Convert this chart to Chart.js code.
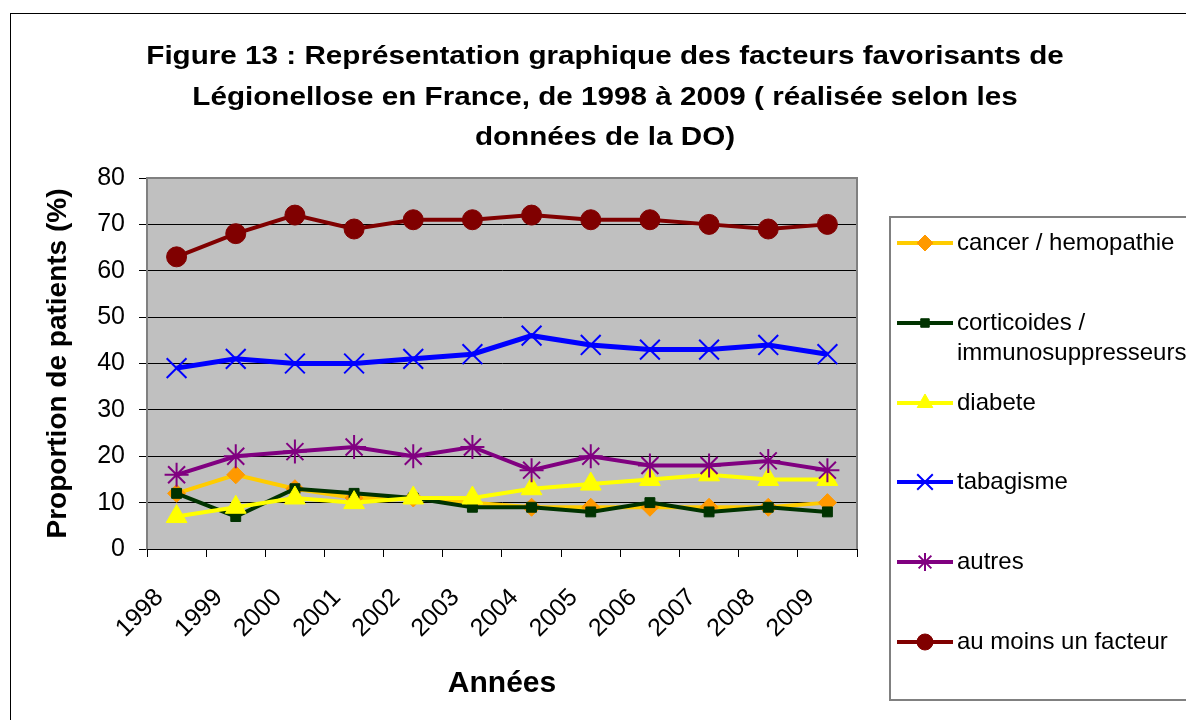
<!DOCTYPE html>
<html>
<head>
<meta charset="utf-8">
<script src="https://cdn.jsdelivr.net/npm/chart.js@4/dist/chart.umd.min.js"></script>
<style>
    html, body { margin: 0; padding: 0; background: #fff; overflow: hidden; }
</style>
</head>
<body>
<canvas id="myChart" width="1186" height="720"></canvas>
<script>
// data
const years = ['1998', '1999', '2000', '2001', '2002', '2003', '2004', '2005', '2006', '2007', '2008', '2009'];
const cancer = [12, 16, 13, 11, 11, 10, 9, 9, 9, 9, 9, 10];
const corticoides = [12, 7, 13, 12, 11, 9, 9, 8, 10, 8, 9, 8];
const diabete = [7, 9, 11, 10, 11, 11, 13, 14, 15, 16, 15, 15];
const tabagisme = [39, 41, 40, 40, 41, 42, 46, 44, 43, 43, 44, 42];
const autres = [16, 20, 21, 22, 20, 22, 17, 20, 18, 18, 19, 17];
const auMoins = [63, 68, 72, 69, 71, 71, 72, 71, 71, 70, 69, 70];

const seriesLabels = ['cancer / hemopathie', 'corticoides / immunosuppresseurs', 'diabete', 'tabagisme', 'autres', 'au moins un facteur'];
const yTicks = [0, 10, 20, 30, 40, 50, 60, 70, 80];

const titleLines = [
    'Figure 13 : Représentation graphique des facteurs favorisants de',
    'Légionellose en France, de 1998 à 2009 ( réalisée selon les',
    'données de la DO)'
];

const FONT = "'Liberation Sans', Arial, sans-serif";

// background, frame and title
const frame = {
    id: 'frame',
    beforeDraw(chart) {
        const c = chart.ctx;
        const a = chart.chartArea;
        c.save();
        c.fillStyle = '#fff';
        c.fillRect(0, 0, chart.width, chart.height);
        c.strokeStyle = '#000';
        c.lineWidth = 1;
        c.strokeRect(10.5, 13.5, 1300, 900);
        c.fillStyle = '#C0C0C0';
        c.fillRect(a.left, a.top, a.right - a.left, a.bottom - a.top);

        // title, slightly stretched like the original
        c.fillStyle = '#000';
        c.font = 'bold 26px ' + FONT;
        c.textAlign = 'center';
        c.textBaseline = 'middle';
        titleLines.forEach((t, i) => {
            c.save();
            c.translate(605, 57 + i * 40.5);
            c.scale(1.14, 1);
            c.fillText(t, 0, 0);
            c.restore();
        });
        c.restore();
    },
    beforeDatasetsDraw(chart) {
        const c = chart.ctx;
        const a = chart.chartArea;
        c.save();
        c.strokeStyle = '#808080';
        c.lineWidth = 2;
        c.beginPath();
        c.moveTo(a.left, a.top);
        c.lineTo(a.right, a.top);
        c.lineTo(a.right, a.bottom);
        c.stroke();
        c.restore();
    }
};

function drawMarker(c, ds, x, y) {
    c.save();
    c.fillStyle = ds.pointBackgroundColor;
    c.strokeStyle = ds.pointBorderColor;
    c.lineWidth = ds.pointBorderWidth;
    Chart.helpers.drawPoint(c, {
        pointStyle: ds.pointStyle,
        radius: ds.legendRadius,
        borderWidth: ds.pointBorderWidth,
        rotation: 0
    }, x, y);
    c.restore();
}

// legend box on the right
const sideLegend = {
    id: 'sideLegend',
    afterDraw(chart) {
        const c = chart.ctx;
        c.save();
        c.strokeStyle = '#808080';
        c.lineWidth = 2;
        c.strokeRect(890, 217, 400, 483);
        const rows = [243, 323, 403, 482, 562, 642];
        c.font = '24px ' + FONT;
        c.textBaseline = 'middle';
        c.textAlign = 'left';
        chart.data.datasets.forEach((ds, i) => {
            const y = rows[i];
            c.strokeStyle = ds.borderColor;
            c.lineWidth = 4;
            c.beginPath();
            c.moveTo(897, y);
            c.lineTo(953, y);
            c.stroke();
            drawMarker(c, ds, 925, y);
            c.fillStyle = '#000';
            if (i === 1) {
                const parts = ds.label.split(' / ');
                c.fillText(parts[0] + ' /', 957, y);
                c.fillText(parts[1], 957, y + 30);
            } else {
                c.fillText(ds.label, 957, y);
            }
        });
        c.restore();
    }
};

function line(label, data, color, width, markerColor, style, radius, legendRadius, bw, order) {
    return {
        label: label,
        data: data,
        borderColor: color,
        borderWidth: width,
        pointStyle: style,
        pointRadius: radius,
        pointHoverRadius: radius,
        pointBackgroundColor: markerColor,
        pointBorderColor: markerColor,
        pointBorderWidth: bw,
        legendRadius: legendRadius,
        tension: 0,
        order: order
    };
}

const ctx = document.getElementById('myChart');

let myChart = new Chart(ctx, {
    type: 'line',
    data: {
        labels: years,
        datasets: [
            line(seriesLabels[0], cancer, '#FFCC00', 4, '#FF9900', 'rectRot', 9, 8, 1, 6),
            line(seriesLabels[1], corticoides, '#003300', 4, '#003300', 'rect', 7, 6, 1, 5),
            line(seriesLabels[2], diabete, '#FFFF00', 4, '#FFFF00', 'triangle', 12, 9, 1, 4),
            line(seriesLabels[3], tabagisme, '#0000FF', 5, '#0000FF', 'crossRot', 14, 11, 2, 3),
            line(seriesLabels[4], autres, '#800080', 4, '#800080', 'star', 12, 9, 2, 2),
            line(seriesLabels[5], auMoins, '#800000', 4, '#800000', 'circle', 10, 8, 1, 1)
        ]
    },
    options: {
        responsive: false,
        maintainAspectRatio: false,
        animation: false,
        layout: {
            padding: { left: 10, top: 178, right: 329, bottom: 0 }
        },
        plugins: {
            legend: { display: false },
            title: { display: false },
            tooltip: { enabled: false }
        },
        scales: {
            y: {
                min: 0,
                max: 80,
                afterBuildTicks: (scale) => {
                    scale.ticks = yTicks.map(v => ({ value: v }));
                },
                afterFit: (scale) => { scale.width = 137; },
                grid: {
                    color: '#000',
                    lineWidth: 1,
                    tickLength: 8,
                    tickColor: '#000'
                },
                border: { color: '#808080', width: 2 },
                ticks: {
                    color: '#000',
                    autoSkip: false,
                    font: { family: FONT, size: 25 },
                    padding: 14
                },
                title: {
                    display: true,
                    text: 'Proportion de patients (%)',
                    color: '#000',
                    font: { family: FONT, size: 28, weight: 'bold' },
                    padding: { top: 31, bottom: 0 }
                }
            },
            x: {
                offset: true,
                afterFit: (scale) => { scale.height = 171; },
                grid: {
                    offset: true,
                    drawOnChartArea: false,
                    drawTicks: true,
                    tickLength: 8,
                    tickColor: '#000'
                },
                border: { color: '#000', width: 1 },
                ticks: {
                    color: '#000',
                    font: { family: FONT, size: 25 },
                    minRotation: 45,
                    maxRotation: 45,
                    autoSkip: false,
                    labelOffset: -17,
                    padding: 26
                },
                title: {
                    display: true,
                    text: 'Années',
                    color: '#000',
                    font: { family: FONT, size: 30, weight: 'bold' },
                    padding: { top: 0, bottom: 18 }
                }
            }
        }
    },
    plugins: [frame, sideLegend]
});
</script>
</body>
</html>
